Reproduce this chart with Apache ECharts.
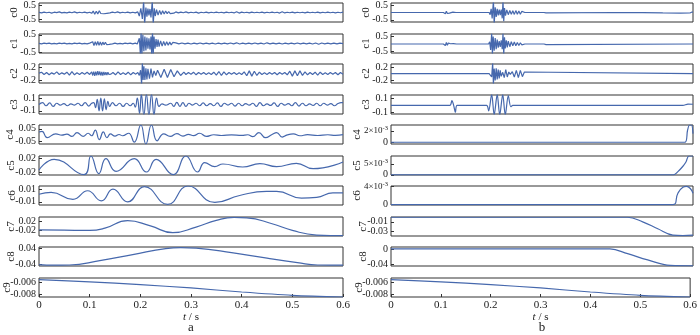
<!DOCTYPE html>
<html>
<head>
<meta charset="utf-8">
<script src="https://cdn.jsdelivr.net/npm/echarts@6/dist/echarts.min.js"></script>
<style>
html, body { margin: 0; padding: 0; background: #fff; }
#chart { width: 700px; height: 335px; }
</style>
</head>
<body>
<div id="chart"></div>
<script>
// === DATA: panel a (noisy signal) ===
const aC0 = [[0,0.01],[0.005,-0.03],[0.01,0.03],[0.015,-0.02],[0.02,0.02],[0.025,-0.04],[0.03,0.02],[0.035,-0.01],[0.04,0.04],[0.045,-0.03],[0.05,0.01],[0.055,-0.03],[0.06,0.03],[0.065,-0.02],[0.07,0.04],[0.075,-0.03],[0.08,0.02],[0.085,-0.02],[0.09,0.03],[0.095,-0.03],[0.1,0.02],
  [0.104,-0.06],[0.107,0.1],[0.11,-0.12],[0.113,0.09],[0.116,-0.1],[0.119,0.12],[0.122,-0.07],[0.125,0.06],[0.128,-0.09],[0.131,0.05],[0.134,-0.06],[0.137,0.04],[0.14,-0.03],
  [0.145,0.03],[0.15,-0.02],[0.155,0.04],[0.16,-0.03],[0.165,0.02],[0.17,-0.02],[0.175,0.03],[0.18,-0.03],[0.185,0.02],[0.19,-0.03],[0.195,0.04],
  [0.198,-0.25],[0.201,0.3],[0.204,-0.45],[0.2065,0.8],[0.2085,-0.8],[0.211,0.35],[0.213,-0.3],[0.215,0.28],[0.217,-0.2],[0.219,0.25],[0.221,-0.35],[0.2235,0.8],[0.2255,-0.8],[0.2275,0.3],[0.2295,-0.25],[0.232,0.2],[0.235,-0.18],[0.238,0.15],[0.241,-0.14],[0.244,0.12],[0.247,-0.1],[0.25,0.11],[0.253,-0.08],[0.256,0.07],[0.259,-0.08],[0.262,0.05],[0.266,-0.05],[0.27,0.04],
  [0.275,-0.03],[0.28,0.03],[0.285,-0.02],[0.29,0.04],[0.295,-0.03],[0.3,0.02],[0.305,-0.02],[0.31,0.03],[0.315,-0.04],[0.32,0.02],[0.325,-0.02],[0.33,0.03],[0.335,-0.03],[0.34,0.02],[0.345,-0.02],[0.35,0.03],[0.355,-0.02],[0.36,0.02],[0.365,-0.03],[0.37,0.03],[0.375,-0.02],[0.38,0.02],[0.385,-0.03],[0.39,0.05],[0.395,-0.04],[0.4,0.03],[0.405,-0.02],[0.41,0.02],[0.415,-0.03],[0.42,0.03],[0.425,-0.02],[0.43,0.02],[0.435,-0.02],[0.44,0.03],[0.445,-0.03],[0.45,0.02],[0.455,-0.02],[0.46,0.03],[0.465,-0.02],[0.47,0.02],[0.475,-0.04],[0.48,0.05],[0.485,-0.03],[0.49,0.02],[0.495,-0.02],[0.5,0.03],[0.505,-0.03],[0.51,0.02],[0.515,-0.02],[0.52,0.02],[0.525,-0.03],[0.53,0.03],[0.535,-0.02],[0.54,0.02],[0.545,-0.02],[0.55,0.03],[0.555,-0.03],[0.56,0.02],[0.565,-0.02],[0.57,0.03],[0.575,-0.02],[0.58,0.02],[0.585,-0.03],[0.59,0.02],[0.595,-0.02],[0.6,0.03]];

const aC1 = [[0,0.01],[0.005,-0.02],[0.01,0.02],[0.015,-0.01],[0.02,0.02],[0.025,-0.02],[0.03,0.01],[0.035,-0.02],[0.04,0.02],[0.045,-0.01],[0.05,0.02],[0.055,-0.02],[0.06,0.01],[0.065,-0.02],[0.07,0.02],[0.075,-0.01],[0.08,0.02],[0.085,-0.02],[0.09,0.01],[0.095,-0.02],[0.1,0.02],
  [0.1035,-0.06],[0.106,0.1],[0.1085,-0.12],[0.111,0.11],[0.1135,-0.1],[0.116,0.12],[0.1185,-0.11],[0.121,0.09],[0.1235,-0.1],[0.126,0.08],[0.1285,-0.07],[0.131,0.07],[0.1335,-0.06],[0.136,0.05],[0.1385,-0.05],[0.141,0.03],
  [0.145,-0.02],[0.15,0.02],[0.155,-0.02],[0.16,0.01],[0.165,-0.02],[0.17,0.02],[0.175,-0.01],[0.18,0.02],[0.185,-0.02],[0.19,0.02],[0.194,-0.03],
  [0.196,-0.1],[0.198,0.3],[0.2,-0.6],[0.2015,0.7],[0.203,-0.7],[0.205,0.5],[0.207,-0.45],[0.209,0.4],[0.211,-0.4],[0.213,0.35],[0.215,-0.3],[0.217,0.3],[0.219,-0.35],[0.221,0.4],[0.2225,-0.7],[0.224,0.7],[0.2255,-0.6],[0.227,0.4],[0.229,-0.3],[0.231,0.25],[0.233,-0.2],[0.235,0.22],[0.237,-0.18],[0.24,0.15],[0.243,-0.15],[0.246,0.12],[0.249,-0.12],[0.252,0.1],[0.255,-0.1],[0.258,0.08],[0.261,-0.08],[0.264,0.06],[0.267,-0.05],[0.27,0.04],
  [0.276,-0.02],[0.282,0.03],[0.288,-0.02],[0.294,0.02],[0.3,-0.03],[0.306,0.02],[0.312,-0.02],[0.318,0.03],[0.324,-0.02],[0.33,0.02],[0.336,-0.02],[0.342,0.02],[0.348,-0.03],[0.354,0.02],[0.36,-0.02],[0.366,0.02],[0.372,-0.02],[0.378,0.03],[0.384,-0.02],[0.39,0.04],[0.396,-0.03],[0.402,0.02],[0.408,-0.02],[0.414,0.02],[0.42,-0.02],[0.426,0.03],[0.432,-0.02],[0.438,0.02],[0.444,-0.03],[0.45,0.04],[0.456,-0.02],[0.462,0.02],[0.468,-0.02],[0.474,0.02],[0.48,-0.03],[0.486,0.02],[0.492,-0.02],[0.498,0.02],[0.504,-0.02],[0.51,0.03],[0.516,-0.02],[0.522,0.02],[0.528,-0.02],[0.534,0.02],[0.54,-0.03],[0.546,0.03],[0.552,-0.04],[0.558,0.03],[0.564,-0.02],[0.57,0.02],[0.576,-0.02],[0.582,0.02],[0.588,-0.02],[0.594,0.02],[0.6,-0.01]];

const aC2 = [[0,0.01],[0.005,0.04],[0.01,-0.03],[0.015,0.03],[0.02,-0.04],[0.025,0.02],[0.03,-0.02],[0.035,0.05],[0.04,-0.03],[0.045,0.02],[0.05,-0.02],[0.055,0.04],[0.06,-0.05],[0.065,0.06],[0.07,-0.04],[0.075,0.02],[0.08,-0.03],[0.085,0.03],[0.09,-0.02],[0.095,0.04],[0.1,-0.03],
  [0.104,0.05],[0.106,-0.06],[0.108,0.06],[0.11,-0.07],[0.112,0.06],[0.114,-0.06],[0.116,0.07],[0.118,-0.05],[0.12,0.06],[0.122,-0.06],[0.124,0.05],[0.126,-0.06],[0.128,0.05],[0.13,-0.05],[0.132,0.04],[0.134,-0.05],[0.136,0.04],[0.138,-0.03],[0.14,0.03],[0.142,-0.02],
  [0.146,0.03],[0.151,-0.04],[0.156,0.05],[0.161,-0.03],[0.166,0.02],[0.171,-0.03],[0.176,0.04],[0.181,-0.04],[0.186,0.03],[0.191,-0.02],[0.195,0.03],
  [0.198,-0.06],[0.2005,0.1],[0.2025,-0.32],[0.204,0.32],[0.2055,-0.2],[0.207,0.22],[0.209,-0.2],[0.211,0.16],[0.213,-0.18],[0.215,0.14],[0.218,-0.16],[0.221,0.15],[0.224,-0.12],[0.227,0.08],[0.2305,-0.06],[0.234,0.1],[0.2405,-0.12],[0.247,0.13],[0.2535,-0.12],[0.26,0.12],[0.2665,-0.1],[0.273,0.08],[0.2795,-0.06],[0.286,0.04],
  [0.29,-0.03],[0.295,0.03],[0.3,-0.02],[0.305,0.04],[0.31,-0.04],[0.315,0.03],[0.32,-0.02],[0.325,0.03],[0.33,-0.03],[0.335,0.02],[0.34,-0.03],[0.345,0.04],[0.35,-0.05],[0.355,0.06],[0.36,-0.06],[0.365,0.05],[0.37,-0.04],[0.375,0.03],[0.38,-0.02],[0.385,0.03],[0.39,-0.03],[0.395,0.02],[0.4,-0.03],[0.405,0.05],[0.41,-0.07],[0.415,0.08],[0.42,-0.08],[0.425,0.07],[0.43,-0.06],[0.435,0.04],[0.44,-0.03],[0.445,0.02],[0.45,-0.03],[0.455,0.03],[0.46,-0.02],[0.465,0.03],[0.47,-0.04],[0.475,0.03],[0.48,-0.02],[0.485,0.03],[0.49,-0.04],[0.495,0.07],[0.5,-0.08],[0.505,0.08],[0.51,-0.07],[0.515,0.08],[0.52,-0.06],[0.525,0.05],[0.53,-0.04],[0.535,0.03],[0.54,-0.03],[0.545,0.04],[0.55,-0.05],[0.555,0.04],[0.56,-0.03],[0.565,0.02],[0.57,-0.03],[0.575,0.03],[0.58,-0.02],[0.585,0.03],[0.59,-0.04],[0.595,0.03],[0.6,-0.02]];

const aC3 = [[0,0],[0.007,0.03],[0.014,-0.02],[0.021,0.025],[0.028,-0.03],[0.035,0.02],[0.042,-0.01],[0.049,0.015],[0.056,-0.02],[0.063,0.01],[0.07,-0.01],[0.077,0.02],[0.084,-0.02],[0.091,0.03],[0.098,-0.025],[0.104,0.02],
  [0.108,0.03],[0.1115,-0.05],[0.115,0.08],[0.1185,-0.1],[0.122,0.1],[0.1255,-0.1],[0.129,0.09],[0.1325,-0.08],[0.136,0.05],[0.1395,-0.03],
  [0.145,0.03],[0.152,-0.02],[0.159,0.02],[0.166,-0.03],[0.173,0.02],[0.18,-0.02],[0.186,0.02],[0.19,-0.04],[0.194,0.1],[0.1985,-0.14],[0.202,0.16],[0.207,-0.16],[0.212,0.16],[0.217,-0.16],[0.222,0.16],[0.227,-0.16],[0.232,0.1],[0.237,-0.03],[0.243,0.01],
  [0.25,-0.01],[0.26,0.02],[0.266,-0.03],[0.272,0.035],[0.278,-0.03],[0.284,0.03],[0.29,-0.03],[0.296,0.02],[0.303,-0.01],[0.31,0.02],[0.317,-0.02],[0.324,0.025],[0.331,-0.02],[0.338,0.015],[0.345,-0.02],[0.352,0.025],[0.359,-0.03],[0.366,0.02],[0.373,-0.01],[0.38,0.02],[0.387,-0.025],[0.394,0.02],[0.401,-0.02],[0.408,0.015],[0.415,-0.01],[0.422,0.02],[0.429,-0.03],[0.436,0.03],[0.443,-0.02],[0.45,0.01],[0.457,-0.015],[0.464,0.025],[0.471,-0.03],[0.478,0.02],[0.485,-0.01],[0.492,0.015],[0.499,-0.02],[0.506,0.03],[0.513,-0.025],[0.52,0.02],[0.527,-0.02],[0.534,0.01],[0.541,-0.015],[0.548,0.02],[0.555,-0.02],[0.562,0.02],[0.569,-0.01],[0.576,0.015],[0.583,-0.02],[0.59,0.015],[0.596,0.03],[0.6,0.03]];

const aC4 = [[0,0.025],[0.006,0.03],[0.016,-0.02],[0.033,0.01],[0.045,0],[0.055,0.008],[0.065,-0.01],[0.075,0.02],[0.087,-0.01],[0.097,0.015],[0.104,-0.005],[0.111,0.04],[0.119,-0.035],[0.127,0.025],[0.134,-0.02],[0.141,0.01],[0.15,-0.008],[0.158,0.005],[0.165,-0.005],[0.177,0.015],[0.188,-0.055],[0.201,0.08],[0.211,-0.07],[0.222,0.08],[0.233,-0.045],[0.246,0.01],[0.259,-0.01],[0.272,0.012],[0.284,-0.008],[0.295,0.006],[0.305,-0.004],[0.317,0.015],[0.33,-0.01],[0.345,0.003],[0.36,-0.003],[0.38,0.002],[0.4,-0.002],[0.412,0.003],[0.422,-0.012],[0.434,0.02],[0.447,-0.02],[0.46,0.005],[0.469,0.02],[0.48,-0.015],[0.49,0.002],[0.502,0.01],[0.515,-0.005],[0.53,0.004],[0.55,-0.003],[0.57,0.003],[0.585,-0.002],[0.6,0.004]];

const aC5 = [[0,-0.014],[0.03,0.018],[0.089,-0.028],[0.1025,0.028],[0.118,-0.025],[0.132,0.02],[0.152,-0.018],[0.188,0.02],[0.212,-0.02],[0.231,0.018],[0.265,-0.028],[0.29,0.028],[0.313,-0.02],[0.327,0.008],[0.347,-0.004],[0.363,0.004],[0.402,-0.005],[0.436,0.005],[0.469,-0.004],[0.508,0.006],[0.541,-0.01],[0.6,0.01]];

const aC6 = [[0,0.002],[0.024,0.005],[0.067,-0.006],[0.096,0.0075],[0.123,-0.0085],[0.146,0.01],[0.175,-0.01],[0.208,0.014],[0.254,-0.014],[0.294,0.015],[0.347,-0.011],[0.396,0],[0.449,0.0065],[0.469,0.0065],[0.518,-0.004],[0.548,-0.003],[0.58,0.004],[0.6,0.004]];

const aC7 = [[0,-0.018],[0.05,-0.019],[0.1,-0.02],[0.13,-0.01],[0.175,0.024],[0.22,0],[0.264,-0.03],[0.31,-0.005],[0.35,0.025],[0.385,0.038],[0.41,0.036],[0.46,0.01],[0.5,-0.02],[0.548,-0.041],[0.575,-0.043],[0.6,-0.043]];

const aC8 = [[0,-0.04],[0.03,-0.043],[0.06,-0.042],[0.12,-0.02],[0.185,0.01],[0.25,0.04],[0.28,0.045],[0.31,0.042],[0.38,0.02],[0.45,-0.008],[0.51,-0.03],[0.55,-0.042],[0.6,-0.043]];

const aC9 = [[0,-0.00556],[0.1,-0.0059],[0.2,-0.00637],[0.3,-0.0069],[0.4,-0.00756],[0.5,-0.0081],[0.6,-0.00837]];

// === DATA: panel b (denoised signal) ===
const bC0 = [[0,0],[0.104,0],[0.106,0.06],[0.108,-0.08],[0.11,0.09],[0.112,-0.07],[0.114,0.06],[0.116,-0.04],[0.118,0],[0.123,0.03],[0.126,-0.03],[0.129,0],[0.195,0],[0.197,-0.15],[0.199,0.25],[0.201,-0.4],[0.2035,0.8],[0.205,-0.8],[0.207,0.35],[0.209,-0.3],[0.211,0.25],[0.213,-0.2],[0.215,0.2],[0.217,-0.18],[0.219,0.2],[0.221,-0.4],[0.2225,0.8],[0.224,-0.6],[0.2255,0.3],[0.2275,-0.22],[0.23,0.18],[0.233,-0.15],[0.236,0.14],[0.239,-0.12],[0.242,0.12],[0.245,-0.13],[0.248,0.13],[0.251,-0.12],[0.254,0.1],[0.257,-0.12],[0.26,0.08],[0.263,-0.05],[0.266,0],[0.304,0],[0.306,0.04],[0.308,-0.03],[0.31,0],[0.45,0],[0.5,-0.01],[0.54,-0.03],[0.575,-0.045],[0.594,-0.035],[0.598,0.03],[0.6,0.02]];

const bC1 = [[0,0],[0.104,0],[0.106,0.08],[0.108,-0.1],[0.11,0.1],[0.112,-0.09],[0.114,0.07],[0.116,-0.05],[0.118,0.02],[0.12,0],[0.124,0.03],[0.127,-0.04],[0.13,0],[0.194,0],[0.196,0.15],[0.198,-0.4],[0.2,0.7],[0.2015,-0.7],[0.203,0.5],[0.205,-0.45],[0.207,0.4],[0.209,-0.35],[0.211,0.3],[0.213,-0.25],[0.215,0.2],[0.217,-0.2],[0.219,0.25],[0.221,-0.35],[0.2225,0.7],[0.224,-0.7],[0.2255,0.45],[0.227,-0.3],[0.229,0.25],[0.231,-0.22],[0.233,0.2],[0.236,-0.18],[0.239,0.15],[0.242,-0.12],[0.245,0.14],[0.248,-0.12],[0.251,0.1],[0.254,-0.1],[0.257,0.08],[0.26,-0.06],[0.263,0.04],[0.266,0],[0.304,0],[0.306,0.05],[0.308,-0.04],[0.31,0],[0.6,0]];

const bC2 = [[0,0],[0.195,0],[0.198,0.05],[0.2,-0.1],[0.202,0.32],[0.2035,-0.32],[0.205,0.15],[0.207,-0.2],[0.209,0.16],[0.211,-0.17],[0.213,0.12],[0.215,-0.14],[0.217,0.1],[0.219,-0.08],[0.222,0.04],[0.225,-0.12],[0.228,0.12],[0.231,-0.1],[0.234,0.05],[0.237,-0.02],[0.241,0.06],[0.245,-0.1],[0.249,0.1],[0.253,-0.12],[0.257,0.1],[0.261,-0.09],[0.265,0.05],[0.268,0],[0.6,0]];

const bC3 = [[0,0],[0.117,0],[0.121,0.07],[0.1245,0],[0.128,-0.1],[0.1315,0],[0.19,0],[0.194,-0.08],[0.2,0.16],[0.205,-0.14],[0.211,0.16],[0.216,-0.14],[0.222,0.16],[0.227,-0.14],[0.233,0.14],[0.238,-0.02],[0.242,0],[0.58,0],[0.59,0.018],[0.6,0.016]];

const bC4 = [[0,0],[0.584,0],[0.589,0.002],[0.593,0.003],[0.597,0.003],[0.6,0.0015]];

const bC5 = [[0,0],[0.561,0],[0.57,0.0015],[0.58,0.004],[0.586,0.006],[0.592,0.0088],[0.6,0.0088]];

const bC6 = [[0,0],[0.56,0],[0.57,0.0025],[0.58,0.0038],[0.587,0.004],[0.595,0.0035],[0.6,0.0025]];

const bC7 = [[0,0],[0.47,0],[0.5,-0.01],[0.53,-0.025],[0.56,-0.039],[0.58,-0.04],[0.6,-0.039]];

const bC8 = [[0,0],[0.435,0],[0.47,-0.012],[0.51,-0.028],[0.555,-0.042],[0.6,-0.043]];

const bC9 = [[0,-0.00556],[0.1,-0.0059],[0.2,-0.00637],[0.3,-0.0069],[0.4,-0.00756],[0.5,-0.0081],[0.6,-0.00837]];

// === AXES: ranges, ticks, labels ===
const rowNames = ['c0', 'c1', 'c2', 'c3', 'c4', 'c5', 'c6', 'c7', 'c8', 'c9'];

const aRange = [[-0.67, 0.67], [-0.55, 0.55], [-0.29, 0.29], [-0.15, 0.15], [-0.07, 0.08],
  [-0.029, 0.028], [-0.015, 0.015], [-0.045, 0.04], [-0.047, 0.048], [-0.00837, -0.00528]];
const aTicks = [[-0.5, 0.5], [-0.5, 0.5], [-0.2, 0.2], [-0.1, 0.1], [-0.05, 0.05],
  [-0.02, 0.02], [-0.01, 0.01], [-0.02, 0.02], [-0.04, 0.04], [-0.008, -0.006]];
const aTickLabels = [['-0.5', '0.5'], ['-0.5', '0.5'], ['-0.2', '0.2'], ['-0.1', '0.1'], ['-0.05', '0.05'],
  ['-0.02', '0.02'], ['-0.01', '0.01'], ['-0.02', '0.02'], ['-0.04', '0.04'], ['-0.008', '-0.006']];

const bRange = [[-0.65, 0.65], [-0.6, 0.67], [-0.28, 0.29], [-0.125, 0.15], [-0.0003, 0.003],
  [-0.0001, 0.0088], [-0.0001, 0.0041], [-0.041, 0.0006], [-0.0435, 0.005], [-0.00837, -0.00528]];
const bTicks = [[-0.5, 0.5], [-0.5, 0.5], [-0.2, 0.2], [-0.1, 0.1], [0, 0.002],
  [0, 0.005], [0, 0.004], [-0.03, -0.01], [-0.04, 0], [-0.008, -0.006]];
const bTickLabels = [['-0.5', '0.5'], ['-0.5', '0.5'], ['-0.2', '0.2'], ['-0.1', '0.1'], ['0', '2×10{s|-3}'],
  ['0', '5×10{s|-3}'], ['0', '4×10{s|-3}'], ['-0.03', '-0.01'], ['-0.04', '0'], ['-0.008', '-0.006']];

const xTickLabels = ['0', '0.1', '0.2', '0.3', '0.4', '0.5', '0.6'];

// === STYLE ===
const FONT = 'Liberation Serif';
const LINE_COLOR = '#4668ad';
const FRAME_COLOR = '#333333';
const TEXT_COLOR = '#1a1a1a';

const panels = [
  { left: 39, width: 304, rows: [aC0, aC1, aC2, aC3, aC4, aC5, aC6, aC7, aC8, aC9],
    range: aRange, ticks: aTicks, labels: aTickLabels, title: 'a',
    nameGap: [19, 19, 19, 19, 23, 22, 21, 22, 22, 26],
    smooth: [false, false, false, 0.5, 0.5, 0.5, 0.5, 0.5, 0.5, 0.3] },
  { left: 391, width: 302, rows: [bC0, bC1, bC2, bC3, bC4, bC5, bC6, bC7, bC8, bC9],
    range: bRange, ticks: bTicks, labels: bTickLabels, title: 'b',
    nameGap: [19, 19, 19, 19, 28, 28, 28, 22, 22, 26],
    smooth: [false, false, false, 0.3, 0.3, 0.4, 0.5, 0.4, 0.4, 0.3] }
];

const ROW_TOP = 3;
const ROW_STEP = 30.55;
const ROW_H = 19;

// one y axis per tick label, so ECharts never hides one of the two close labels
function makeYAxis(k, p, i, j) {
  const value = p.ticks[i][j];
  const text = p.labels[i][j];
  const size = text.indexOf('{s|') >= 0 ? 9 : 10;
  return {
    gridIndex: k, type: 'value', position: 'left', min: p.range[i][0], max: p.range[i][1],
    name: j === 0 ? rowNames[i] : '',
    nameLocation: 'middle', nameRotate: 90, nameGap: p.nameGap[i], nameMoveOverlap: false,
    nameTextStyle: { fontFamily: FONT, fontSize: 11, color: TEXT_COLOR },
    axisLine: { show: false },
    splitLine: { show: false },
    axisTick: { show: true, inside: true, length: 3, customValues: [value], lineStyle: { color: FRAME_COLOR } },
    axisLabel: {
      customValues: [value], margin: 3, fontFamily: FONT, fontSize: size, color: TEXT_COLOR,
      showMinLabel: true, showMaxLabel: true,
      formatter: () => text,
      rich: { s: { fontFamily: FONT, fontSize: 6.5, color: TEXT_COLOR, verticalAlign: 'top', padding: [0, 0, 5, 0] } }
    }
  };
}

// === BUILD OPTION ===
function buildOption() {
  const grid = [], xAxis = [], yAxis = [], series = [], graphic = [];

  panels.forEach(p => {
    p.rows.forEach((rowData, i) => {
      const k = grid.length;
      const isLast = i === p.rows.length - 1;

      grid.push({
        left: p.left, width: p.width,
        top: Math.round(ROW_TOP + i * ROW_STEP), height: ROW_H,
        show: true, borderColor: FRAME_COLOR, borderWidth: 1, backgroundColor: 'transparent'
      });

      xAxis.push({
        gridIndex: k, type: 'value', min: 0, max: 0.6, interval: 0.1,
        show: isLast,
        axisLine: { show: false },
        splitLine: { show: false },
        axisTick: { show: true, inside: true, length: 3, lineStyle: { color: FRAME_COLOR } },
        axisLabel: {
          show: true, margin: 3, fontFamily: FONT, fontSize: 11, color: TEXT_COLOR,
          showMinLabel: true, showMaxLabel: true,
          formatter: (v, idx) => xTickLabels[idx]
        },
        name: isLast ? '{i|t} / s' : '',
        nameLocation: 'middle', nameGap: 13,
        nameTextStyle: {
          fontFamily: FONT, fontSize: 11, color: TEXT_COLOR,
          rich: { i: { fontFamily: FONT, fontSize: 11, fontStyle: 'italic', color: TEXT_COLOR } }
        }
      });

      const yIndex = yAxis.length;
      yAxis.push(makeYAxis(k, p, i, 0));
      yAxis.push(makeYAxis(k, p, i, 1));

      series.push({
        type: 'line', xAxisIndex: k, yAxisIndex: yIndex, data: rowData,
        showSymbol: false, symbol: 'none', smooth: p.smooth[i], clip: true,
        lineStyle: { color: LINE_COLOR, width: 1.2 },
        animation: false, silent: true
      });
    });

    graphic.push({
      type: 'text', x: p.left + p.width / 2, y: 328,
      style: { text: p.title, fontFamily: FONT, fontSize: 13, fill: TEXT_COLOR, align: 'center', verticalAlign: 'middle' }
    });
  });

  return { animation: false, backgroundColor: '#fff', grid, xAxis, yAxis, series, graphic };
}

// === RENDER ===
const chart = echarts.init(document.getElementById('chart'), null, { renderer: 'canvas' });
chart.setOption(buildOption());
</script>
</body>
</html>
